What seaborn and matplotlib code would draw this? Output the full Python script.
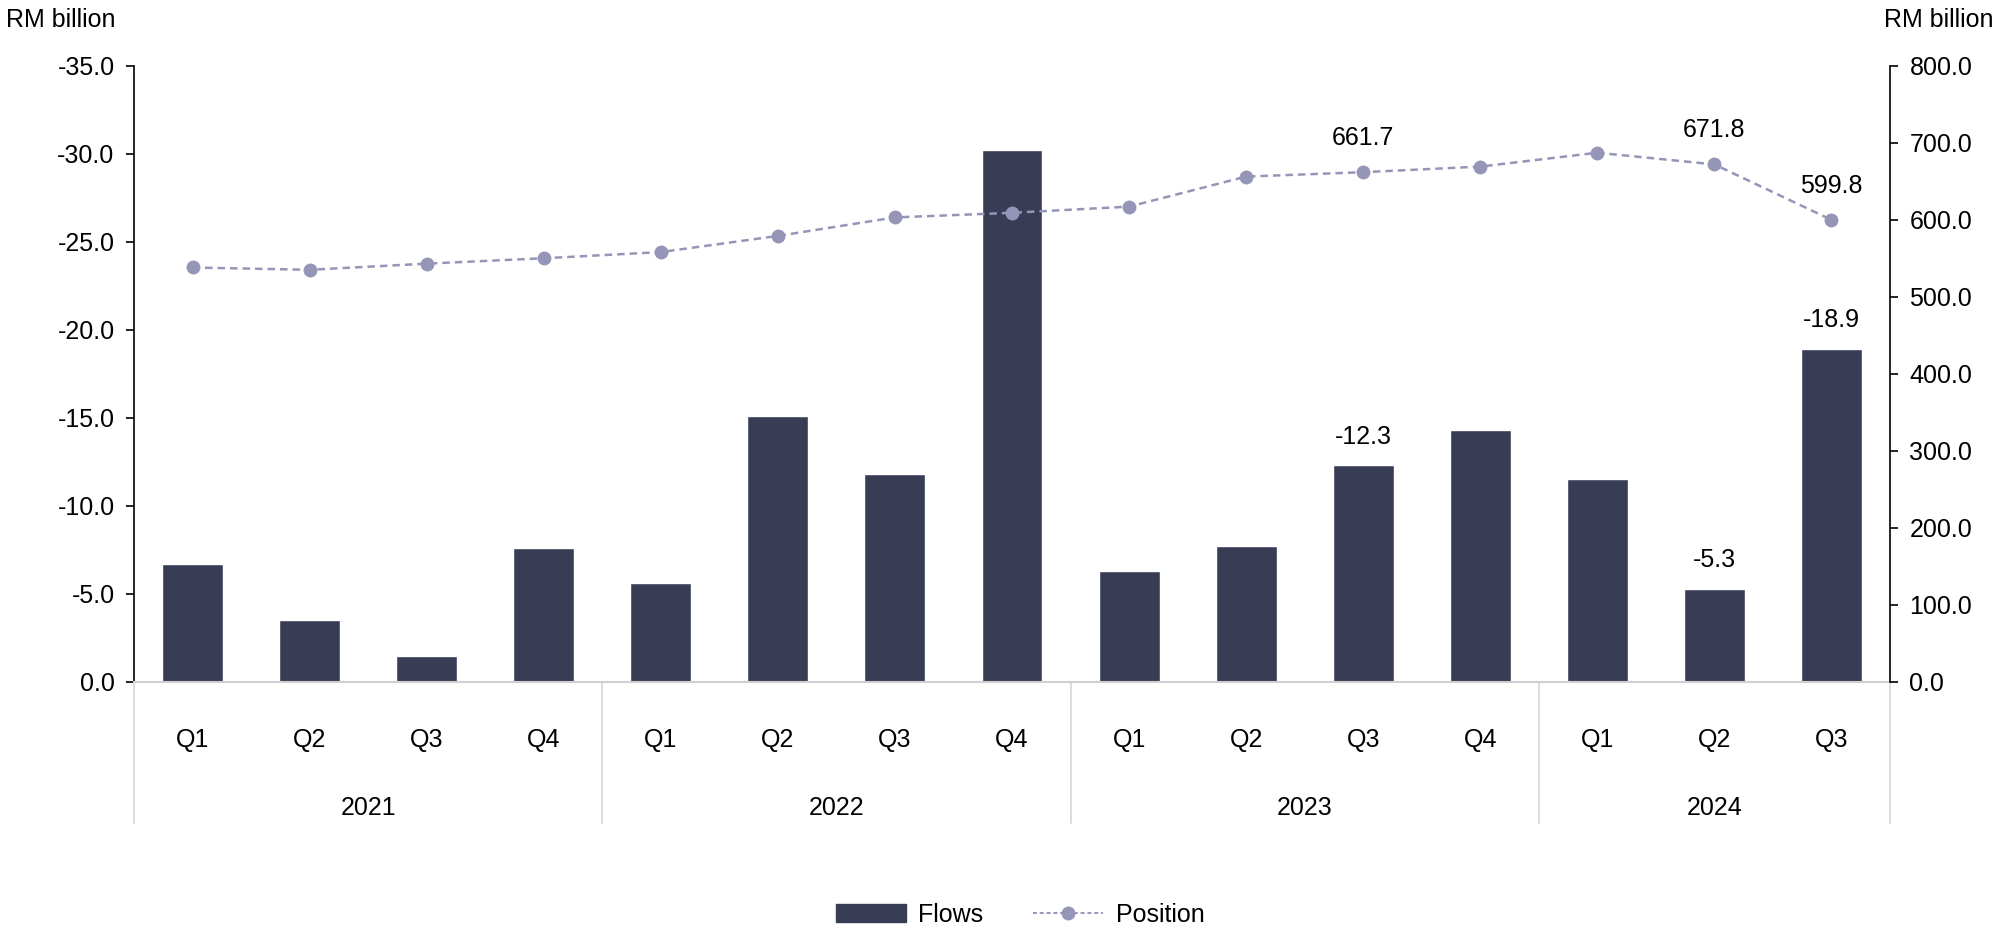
import numpy as np
import pandas as pd
import matplotlib.pyplot as plt
import matplotlib.lines as mlines
import matplotlib.patches as mpatches
import seaborn as sns

sns.set_theme(style="white")
plt.rcParams['font.family'] = ['Liberation Sans', 'DejaVu Sans']
plt.rcParams['text.color'] = 'black'
plt.rcParams['xtick.color'] = 'black'
plt.rcParams['ytick.color'] = 'black'

# data
years = ["2021", "2021", "2021", "2021", "2022", "2022", "2022", "2022",
         "2023", "2023", "2023", "2023", "2024", "2024", "2024"]
quarters = ["Q1", "Q2", "Q3", "Q4", "Q1", "Q2", "Q3", "Q4",
            "Q1", "Q2", "Q3", "Q4", "Q1", "Q2", "Q3"]
flows = [-6.7, -3.5, -1.5, -7.6, -5.6, -15.1, -11.8, -30.2,
         -6.3, -7.7, -12.3, -14.3, -11.5, -5.3, -18.9]
position = [538, 535, 543, 550, 558, 579, 603, 609,
            617, 656, 661.7, 669, 687, 671.8, 599.8]
flow_labels = {10: "-12.3", 13: "-5.3", 14: "-18.9"}
pos_labels = {10: "661.7", 13: "671.8", 14: "599.8"}

bar_color = "#383d55"
line_color = "#9595b8"
fs = 18

df = pd.DataFrame({"period": [y + " " + q for y, q in zip(years, quarters)],
                   "flows": flows, "position": position})
df["idx"] = np.arange(len(df))

fig = plt.figure(figsize=(20, 9.38), dpi=100)
ax = fig.add_axes([0.067, 0.273, 0.878, 0.657])

sns.barplot(data=df, x="period", y="flows", color=bar_color, width=0.52,
            saturation=1, ax=ax)
ax.set_xlim(-0.5, len(df) - 0.5)
ax.set_ylim(0, -35)
ax.set_yticks(np.arange(0, -36, -5))
ax.set_yticklabels([f"{v:.1f}" for v in np.arange(0, -36, -5)], fontsize=fs)
ax.set_xlabel("")
ax.set_ylabel("")
ax.set_xticks(df["idx"])
ax.set_xticklabels(quarters, fontsize=fs)
ax.tick_params(axis="x", length=0, pad=33)
ax.tick_params(axis="y", length=6, width=1.2, color="black", direction="out",
               left=True, pad=8)
for s in ["top", "right"]:
    ax.spines[s].set_visible(False)
ax.spines["left"].set_color("black")
ax.spines["left"].set_linewidth(1.2)
ax.spines["bottom"].set_color("#d0d0d0")
ax.spines["bottom"].set_linewidth(1.5)

for i, txt in flow_labels.items():
    ax.annotate(txt, (i, flows[i]), xytext=(0, 12), textcoords="offset points",
                ha="center", va="bottom", fontsize=fs)

# year groups underneath
trans = ax.get_xaxis_transform()
year_names = list(dict.fromkeys(years))
bounds = [-0.5]
for yname in year_names:
    idxs = [i for i, y in enumerate(years) if y == yname]
    bounds.append(idxs[-1] + 0.5)
    ax.text(np.mean(idxs), -0.205, yname, transform=trans, ha="center",
            va="center", fontsize=fs)
for b in bounds:
    ax.plot([b, b], [0, -0.229], transform=trans, color="#d5d5d5", lw=1.2,
            clip_on=False)

ax2 = ax.twinx()
sns.lineplot(data=df, x="idx", y="position", ax=ax2, color=line_color,
             linestyle=(0, (3, 2)), linewidth=1.8, marker="o", markersize=10,
             markeredgewidth=0, markerfacecolor=line_color)
ax2.set_ylim(0, 800)
ax2.set_yticks(np.arange(0, 801, 100))
ax2.set_yticklabels([f"{v:.1f}" for v in np.arange(0, 801, 100)], fontsize=fs)
ax2.set_xlabel("")
ax2.set_ylabel("")
ax2.set_xlim(-0.5, len(df) - 0.5)
ax2.tick_params(axis="y", length=6, width=1.2, color="black", direction="out",
                right=True, pad=8)
for s in ["top", "left", "bottom"]:
    ax2.spines[s].set_visible(False)
ax2.spines["right"].set_color("black")
ax2.spines["right"].set_linewidth(1.2)
ax2.grid(False)

for i, txt in pos_labels.items():
    ax2.annotate(txt, (i, position[i]), xytext=(0, 16), textcoords="offset points",
                 ha="center", va="bottom", fontsize=fs)

fig.text(0.003, 0.979, "RM billion", ha="left", va="center", fontsize=fs)
fig.text(0.997, 0.979, "RM billion", ha="right", va="center", fontsize=fs)

h1 = mpatches.Patch(color=bar_color, label="Flows")
h2 = mlines.Line2D([], [], color=line_color, linestyle=(0, (2, 1.5)), lw=1.4,
                   marker="o", markersize=10, markeredgewidth=0, label="Position")
fig.legend(handles=[h1, h2], loc="center", bbox_to_anchor=(0.51, 0.025), ncol=2,
           frameon=False, fontsize=fs, handlelength=2.8, columnspacing=2.0,
           handletextpad=0.5)

fig.savefig("out.png", dpi=100)
